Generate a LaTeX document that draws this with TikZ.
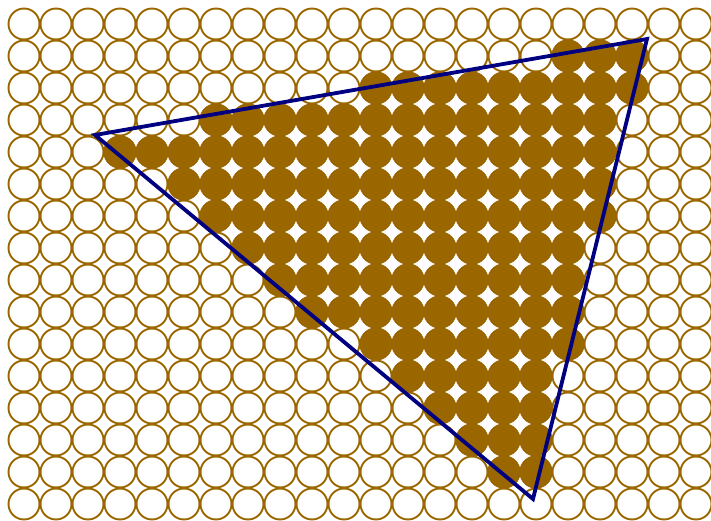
\documentclass[tikz,border=0pt]{standalone}
\begin{document}
\begin{tikzpicture}[x=1pt,y=-1pt,
  cell/.style={circle,draw=brn,line width=1.9pt,minimum size=31pt,inner sep=0pt},
  filledcell/.style={cell,fill=brn},
  tri/.style={draw=navyc,line width=3.8pt,line join=miter}]
\definecolor{brn}{HTML}{996600}
\definecolor{navyc}{HTML}{000080}
\useasboundingbox (0,0) rectangle (711,521);
% empty grid
\foreach \i in {0,...,21}{
  \foreach \j in {0,...,15}{
    \node[cell] (c-\i-\j) at ({24+32*\i},{24+32*\j}) {};
  }
}
% filled cells: row / first column / last column
\foreach \j/\s/\e in {1/17/19,2/11/19,3/6/18,4/3/18,5/5/18,6/6/18,7/7/17,8/8/17,9/9/17,10/11/17,11/12/16,12/13/16,13/14/16,14/15/16}{
  \foreach \i in {\s,...,\e}{
    \node[filledcell] (f-\i-\j) at ({24+32*\i},{24+32*\j}) {};
  }
}
\coordinate (A) at (95,135);
\coordinate (B) at (647,39);
\coordinate (C) at (533,499);
\draw[tri] (A) -- (B) -- (C) -- cycle;
\end{tikzpicture}
\end{document}
